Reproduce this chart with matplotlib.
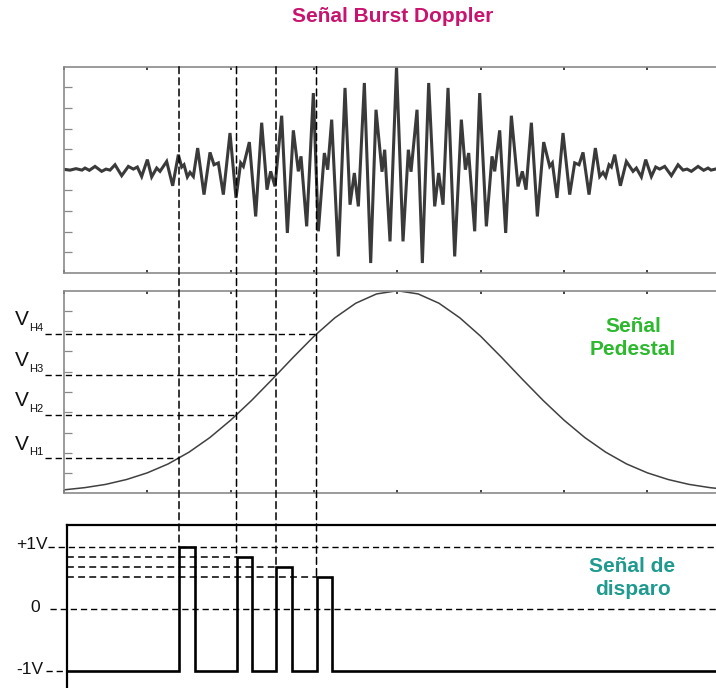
import matplotlib
matplotlib.use("Agg")
import matplotlib.pyplot as plt
from matplotlib.patches import ConnectionPatch

plt.rcParams['font.family'] = ['Liberation Sans', 'DejaVu Sans']

# Burst Doppler signal: turning points (time, amplitude)
burst_t = [0.000, 0.072, 0.144, 0.216, 0.252, 0.304, 0.372, 0.452, 0.504, 0.552,
           0.612, 0.692, 0.772, 0.832, 0.880, 0.932, 1.000, 1.052, 1.112, 1.152,
           1.232, 1.304, 1.372, 1.412, 1.440, 1.480, 1.512, 1.552, 1.604, 1.680,
           1.752, 1.800, 1.852, 1.912, 1.992, 2.064, 2.120, 2.152, 2.224, 2.300,
           2.372, 2.436, 2.480, 2.532, 2.612, 2.680, 2.752, 2.812, 2.844, 2.912,
           2.992, 3.052, 3.124, 3.164, 3.212, 3.292, 3.372, 3.432, 3.484, 3.532,
           3.604, 3.680, 3.744, 3.816, 3.848, 3.912, 3.990,
           4.068, 4.132, 4.164, 4.236, 4.300, 4.376, 4.448, 4.496, 4.548, 4.608,
           4.688, 4.768, 4.816, 4.856, 4.928, 4.988, 5.068, 5.136, 5.168, 5.228,
           5.300, 5.368, 5.448, 5.500, 5.544, 5.608, 5.680, 5.756, 5.828, 5.860,
           5.916, 5.988, 6.068, 6.128, 6.180, 6.228, 6.300, 6.376, 6.428, 6.468,
           6.500, 6.540, 6.568, 6.608, 6.676, 6.748, 6.828, 6.868, 6.928, 6.980,
           7.048, 7.100, 7.148, 7.208, 7.288, 7.368, 7.428, 7.476, 7.528, 7.608,
           7.676, 7.728, 7.764, 7.836, 7.908, 7.980]
burst_v = [0.02, -0.02, 0.05, -0.02, 0.08, -0.03, 0.16, -0.08, 0.03, -0.02,
           0.24, -0.29, 0.16, 0.03, 0.13, -0.33, 0.49, -0.35, 0.08, -0.08,
           0.40, -0.78, 0.73, 0.13, 0.24, -0.35, -0.13, -0.33, 1.05, -1.21,
           0.84, 0.24, 0.33, -1.21, 1.78, -1.37, 0.33, 0.16, 1.34, -2.27,
           2.28, -0.97, -0.08, -0.81, 2.62, -3.07, 1.91, -0.08, 0.65, -2.75,
           3.72, -2.99, 0.81, 0.00, 2.43, -4.21, 3.97, -1.70, -0.16, -1.78,
           4.21, -4.53, 2.91, -0.10, 0.97, -3.48, 5.00,
           -3.48, 0.97, -0.10, 2.91, -4.53, 4.21, -1.78, -0.16, -1.70, 3.97,
           -4.21, 2.43, 0.00, 0.81, -2.99, 3.72, -2.75, 0.65, -0.08, 1.91,
           -3.07, 2.62, -0.81, -0.08, -0.97, 2.28, -2.27, 1.34, 0.16, 0.33,
           -1.37, 1.78, -1.21, 0.33, 0.24, 0.84, -1.21, 1.05, -0.33, -0.13,
           -0.35, 0.24, 0.13, 0.73, -0.78, 0.40, -0.08, 0.08, -0.35, 0.49,
           -0.33, 0.13, 0.03, 0.16, -0.29, 0.24, -0.02, 0.03, -0.08, 0.16,
           -0.03, 0.08, -0.02, 0.05, -0.02, 0.02]

# Pedestal (low-frequency) component of the burst
pedestal_t = [0.00, 0.25, 0.50, 0.75, 1.00, 1.25, 1.50, 1.75, 2.00, 2.25, 2.50,
              2.75, 3.00, 3.25, 3.50, 3.75, 4.00, 4.25, 4.50, 4.75, 5.00, 5.25,
              5.50, 5.75, 6.00, 6.25, 6.50, 6.75, 7.00, 7.25, 7.50, 7.75, 8.00]
pedestal_v = [0.17, 0.28, 0.44, 0.68, 1.01, 1.45, 2.03, 2.75, 3.61, 4.58, 5.63,
              6.71, 7.75, 8.66, 9.38, 9.84, 10.00, 9.84, 9.38, 8.66, 7.75, 6.71,
              5.63, 4.58, 3.61, 2.75, 2.03, 1.45, 1.01, 0.68, 0.44, 0.28, 0.17]

# Trigger instants, threshold levels and output pulses
trigger_t = [1.38, 2.07, 2.544, 3.03]
threshold_names = ['H1', 'H2', 'H3', 'H4']
threshold_v = [1.72, 3.86, 5.84, 7.86]
pulse_v = [1.00, 0.84, 0.68, 0.51]
pulse_width = 0.19

level_v = [1, 0, -1]
level_labels = ['+1V', '0', '-1V']

W, H = 716, 688
fig = plt.figure(figsize=(W / 100, H / 100), dpi=100)

def box(left, top, right, bottom):
    return [left / W, (H - bottom) / H, (right - left) / W, (bottom - top) / H]

frame_col = '#8a8a8a'
dash = (0, (4.5, 2.8))

# --- Burst panel ---------------------------------------------------------
ax1 = fig.add_axes(box(64, 66.7, 730.7, 272.7))
ax1.plot(burst_t, burst_v, color='#3a3a3a', lw=2.2, solid_joinstyle='miter')
ax1.set_xlim(0, 8)
ax1.set_ylim(-5, 5)

# --- Pedestal panel ------------------------------------------------------
ax2 = fig.add_axes(box(64, 290.7, 730.7, 493.3))
ax2.plot(pedestal_t, pedestal_v, color='#404040', lw=1.1)
ax2.set_xlim(0, 8)
ax2.set_ylim(0, 10)

for ax, yt in ((ax1, range(-4, 5)), (ax2, range(1, 10))):
    ax.set_xticks(range(0, 9))
    ax.set_yticks(list(yt))
    ax.tick_params(axis='x', direction='in', length=2.2, width=1.3, color='#333333',
                   top=True, bottom=True, labelbottom=False)
    ax.tick_params(axis='y', direction='in', length=6, width=0.9, color='#888888',
                   left=True, labelleft=False)
    for s in ax.spines.values():
        s.set_color(frame_col)
        s.set_linewidth(1.2)

# threshold lines and labels
for t, v, name in zip(trigger_t, threshold_v, threshold_names):
    ax2.plot([-0.228, t], [v, v], color='black', lw=1.0, ls=dash, clip_on=False)
    ax2.text(-0.59, v + 0.70, 'V', fontsize=15, ha='left', va='center',
             color='#111111')
    ax2.text(-0.42, v + 0.30, name, fontsize=8, ha='left', va='center',
             color='#111111')

# --- Trigger panel -------------------------------------------------------
ax3 = fig.add_axes(box(66.5, 525, 730.7, 696))
ax3.set_xlim(0.03, 8)
ax3.set_ylim(-1.4, 1.35)
ax3.set_xticks([])
ax3.set_yticks([])
for side in ('bottom', 'right'):
    ax3.spines[side].set_visible(False)
for side in ('top', 'left'):
    ax3.spines[side].set_color('black')
    ax3.spines[side].set_linewidth(1.6)

xs, ys = [0.03], [-1]
for t, h in zip(trigger_t, pulse_v):
    xs += [t, t, t + pulse_width, t + pulse_width]
    ys += [-1, h, h, -1]
xs.append(8)
ys.append(-1)
ax3.plot(xs, ys, color='black', lw=1.9, solid_joinstyle='miter', clip_on=False)

# reference levels
ax3.plot([-0.19, 8], [1, 1], color='black', lw=1.0, ls=dash, clip_on=False)
ax3.plot([-0.17, 8], [0, 0], color='black', lw=1.0, ls=dash, clip_on=False)
ax3.plot([-0.22, 0.03], [-1, -1], color='black', lw=1.0, ls=dash, clip_on=False)
for t, h in zip(trigger_t[1:], pulse_v[1:]):
    ax3.plot([0.03, t], [h, h], color='black', lw=1.1, ls=dash)

label_right = {'+1V': -0.19, '0': -0.29, '-1V': -0.25}
for v, lab in zip(level_v, level_labels):
    ax3.text(label_right[lab], v + 0.03, lab, fontsize=12.5, ha='right',
             va='center', color='#111111', clip_on=False)

# vertical markers from the burst down to each pulse
for t, h in zip(trigger_t, pulse_v):
    con = ConnectionPatch(xyA=(t, 5), coordsA=ax1.transData,
                          xyB=(t, h), coordsB=ax3.transData,
                          arrowstyle='-', shrinkA=0, shrinkB=0,
                          color='black', lw=1.1, ls=dash, zorder=5)
    fig.add_artist(con)

# --- Titles --------------------------------------------------------------
fig.text(392.5 / W, 1 - 17 / H, 'Señal Burst Doppler', fontsize=15,
         fontweight='bold', color='#c8146e', ha='center', va='center')
fig.text(633 / W, 1 - 338 / H, 'Señal\nPedestal', fontsize=15,
         fontweight='bold', color='#2db92d', ha='center', va='center',
         linespacing=1.25)
fig.text(632.5 / W, 1 - 578 / H, 'Señal de\ndisparo', fontsize=15,
         fontweight='bold', color='#1f9a8f', ha='center', va='center',
         linespacing=1.25)

fig.savefig('out.png', dpi=100)
